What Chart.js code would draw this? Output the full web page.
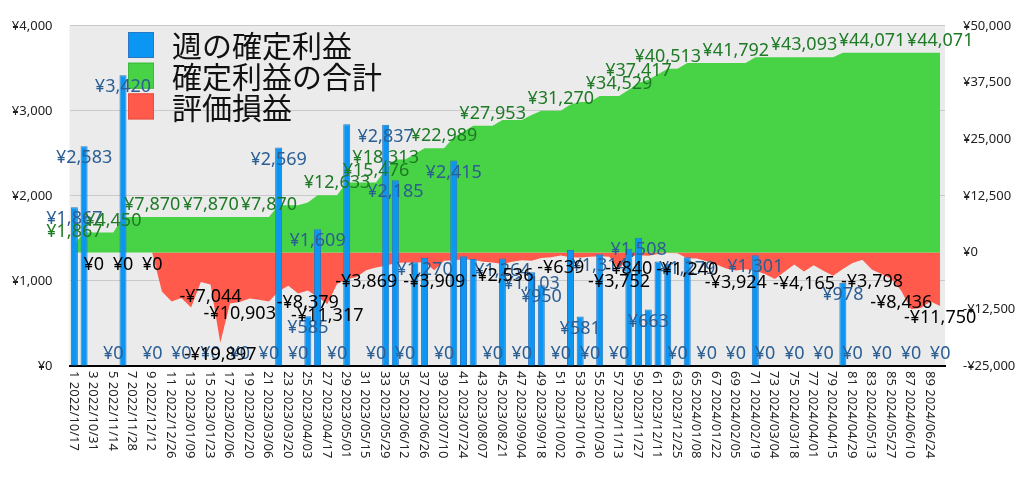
<!DOCTYPE html>
<html>
<head>
<meta charset="utf-8">
<script src="https://cdn.jsdelivr.net/npm/chart.js@4.4.1/dist/chart.umd.min.js"></script>
<style>
body { margin: 0; background: #fff; }
#wrap { width: 1024px; height: 481px; }
</style>
</head>
<body>
<div id="wrap"><canvas id="chart"></canvas></div>
<script>
const dates = [
  '2022/10/17','2022/10/24','2022/10/31','2022/11/07','2022/11/14','2022/11/21','2022/11/28','2022/12/05','2022/12/12','2022/12/19',
  '2022/12/26','2023/01/02','2023/01/09','2023/01/16','2023/01/23','2023/01/30','2023/02/06','2023/02/13','2023/02/20','2023/02/27',
  '2023/03/06','2023/03/13','2023/03/20','2023/03/27','2023/04/03','2023/04/10','2023/04/17','2023/04/24','2023/05/01','2023/05/08',
  '2023/05/15','2023/05/22','2023/05/29','2023/06/05','2023/06/12','2023/06/19','2023/06/26','2023/07/03','2023/07/10','2023/07/17',
  '2023/07/24','2023/07/31','2023/08/07','2023/08/14','2023/08/21','2023/08/28','2023/09/04','2023/09/11','2023/09/18','2023/09/25',
  '2023/10/02','2023/10/09','2023/10/16','2023/10/23','2023/10/30','2023/11/06','2023/11/13','2023/11/20','2023/11/27','2023/12/04',
  '2023/12/11','2023/12/18','2023/12/25','2024/01/01','2024/01/08','2024/01/15','2024/01/22','2024/01/29','2024/02/05','2024/02/12',
  '2024/02/19','2024/02/26','2024/03/04','2024/03/11','2024/03/18','2024/03/25','2024/04/01','2024/04/08','2024/04/15','2024/04/22',
  '2024/04/29','2024/05/06','2024/05/13','2024/05/20','2024/05/27','2024/06/03','2024/06/10','2024/06/17','2024/06/24','2024/07/01'
];
const categories = dates.map((d, i) => (i + 1) + ' ' + d);

// 週の確定利益 (left axis)
const weekly = [
  1867, 2583, 0, 0, 0, 3420, 0, 0, 0, 0,
  0, 0, 0, 0, 0, 0, 0, 0, 0, 0,
  0, 2569, 0, 0, 585, 1609, 0, 0, 2843, 0,
  0, 0, 2837, 2185, 0, 1221, 1270, 0, 0, 2415,
  1290, 1259, 0, 0, 1264, 0, 0, 1103, 950, 0,
  0, 1364, 581, 0, 1314, 0, 0, 1380, 1508, 663,
  1230, 1203, 0, 1279, 0, 0, 0, 0, 0, 0,
  1301, 0, 0, 0, 0, 0, 0, 0, 0, 978,
  0, 0, 0, 0, 0, 0, 0, 0, 0, 0
];
// 確定利益の合計 (right axis)
const total = [
  1867, 4450, 4450, 4450, 4450, 7870, 7870, 7870, 7870, 7870,
  7870, 7870, 7870, 7870, 7870, 7870, 7870, 7870, 7870, 7870,
  7870, 10439, 10439, 10439, 11024, 12633, 12633, 12633, 15476, 15476,
  15476, 15476, 18313, 20498, 20498, 21719, 22989, 22989, 22989, 25404,
  26694, 27953, 27953, 27953, 29217, 29217, 29217, 30320, 31270, 31270,
  31270, 32634, 33215, 33215, 34529, 34529, 34529, 35909, 37417, 38080,
  39310, 40513, 40513, 41792, 41792, 41792, 41792, 41792, 41792, 41792,
  43093, 43093, 43093, 43093, 43093, 43093, 43093, 43093, 43093, 44071,
  44071, 44071, 44071, 44071, 44071, 44071, 44071, 44071, 44071, 44071
];
// 評価損益 (right axis)
const unrealized = [
  0, 0, 0, 0, 0, 0, 0, 0, 0, -8600,
  -10800, -10000, -12100, -6500, -7044, -19897, -11200, -10903, -10100, -10400,
  -10800, -8500, -7300, -9000, -8379, -9800, -11317, -6900, -5900, -5400,
  -3869, -3300, -2900, -2300, -2200, -2200, -2100, -3909, -1800, -1700,
  -1500, -1600, -2000, -2200, -2536, -2000, -1700, -1800, -1200, -1000,
  -639, -1000, -1100, -900, -800, -900, -3752, -840, -600, -700,
  -300, -100, -150, -1240, -1300, -1900, -2600, -3500, -3924, -3650,
  -4000, -4700, -5800, -4200, -2600, -4165, -2800, -4000, -5100, -3600,
  -2300, -1600, -3798, -4700, -5800, -8436, -12500, -12200, -10800, -11750
];

const leftTicks = [0, 1000, 2000, 3000, 4000];
const rightTicks = [-25000, -12500, 0, 12500, 25000, 37500, 50000];

// which points carry a value label in the picture
const weeklyLabelIdx = [0, 1, 4, 5, 8, 11, 14, 17, 20, 21, 23, 24, 25, 27, 31, 32, 33, 34, 36, 38, 39, 43, 44, 46, 47, 48,
  50, 52, 53, 54, 56, 58, 59, 62, 63, 65, 68, 70, 71, 74, 77, 79, 80, 83, 86, 89];
const totalLabelIdx = [0, 4, 8, 14, 20, 27, 31, 32, 38, 43, 50, 56, 58, 61, 68, 75, 82, 89];
const unrealizedLabelIdx = [2, 5, 8, 14, 15, 17, 24, 26, 30, 37, 44, 50, 56, 57, 63, 68, 75, 82, 85, 89];

const seriesNames = ['週の確定利益', '確定利益の合計', '評価損益'];
const colBlue = '#0a96f2', colBlueEdge = '#2a78c4';
const colGreen = '#48d246', colRed = '#ff5a4b';

const yen = v => (v < 0 ? '-' : '') + '¥' + Math.abs(v).toLocaleString('en-US');

const bgPlugin = {
  id: 'plotBg',
  beforeDraw(chart) {
    const { ctx, chartArea: a } = chart;
    ctx.save();
    ctx.fillStyle = '#ebebeb';
    ctx.fillRect(a.left, a.top, a.right - a.left, a.bottom - a.top);
    ctx.restore();
  }
};

const labelPlugin = {
  id: 'valueLabels',
  afterDatasetsDraw(chart) {
    const ctx = chart.ctx;
    const x = chart.scales.x, yl = chart.scales.y, yr = chart.scales.y1;

    // legend
    ctx.save();
    const cols = [colBlue, colGreen, colRed];
    const edges = [colBlueEdge, '#3cb93c', '#e84d40'];
    ctx.font = '30px "Noto Sans CJK JP"';
    ctx.textBaseline = 'middle';
    seriesNames.forEach((n, k) => {
      const top = 32 + k * 30.7;
      ctx.fillStyle = cols[k];
      ctx.fillRect(128, top, 26, 26);
      ctx.strokeStyle = edges[k];
      ctx.lineWidth = 1;
      ctx.strokeRect(128.5, top + 0.5, 25, 25);
      ctx.fillStyle = '#111';
      ctx.fillText(n, 172, top + 14);
    });
    ctx.restore();

    ctx.save();
    ctx.font = '18px "Noto Sans"';
    ctx.textAlign = 'center';
    ctx.textBaseline = 'middle';
    ctx.fillStyle = '#2b5e93';
    weeklyLabelIdx.forEach(i => {
      const v = weekly[i];
      const py = yl.getPixelForValue(v);
      ctx.fillText(yen(v), x.getPixelForValue(i), v > 0 ? py + 12 : py - 12);
    });
    ctx.fillStyle = '#1e7a25';
    totalLabelIdx.forEach(i => {
      ctx.fillText(yen(total[i]), x.getPixelForValue(i), yr.getPixelForValue(total[i]) - 12);
    });
    ctx.fillStyle = '#000';
    unrealizedLabelIdx.forEach(i => {
      ctx.fillText(yen(unrealized[i]), x.getPixelForValue(i), yr.getPixelForValue(unrealized[i]) + 12);
    });
    ctx.restore();
  },
  afterDraw(chart) {
    // vertical category labels, reading downward
    const ctx = chart.ctx, x = chart.scales.x;
    ctx.save();
    ctx.font = '13px "Noto Sans"';
    ctx.fillStyle = '#222';
    ctx.textAlign = 'left';
    ctx.textBaseline = 'middle';
    categories.forEach((c, i) => {
      if (i % 2) return;
      ctx.save();
      ctx.translate(x.getPixelForValue(i) - 1, chart.chartArea.bottom + 5);
      ctx.rotate(Math.PI / 2);
      ctx.fillText(c, 0, 0);
      ctx.restore();
    });
    ctx.restore();
  }
};

new Chart(document.getElementById('chart'), {
  data: {
    labels: categories,
    datasets: [
      {
        type: 'bar', label: seriesNames[0], data: weekly, yAxisID: 'y',
        backgroundColor: colBlue, borderColor: colBlueEdge, borderWidth: 1,
        barPercentage: 0.9, categoryPercentage: 0.8
      },
      {
        type: 'line', label: seriesNames[1], data: total, yAxisID: 'y1',
        backgroundColor: colGreen, borderColor: colGreen, borderWidth: 0,
        pointRadius: 0, fill: 'origin', tension: 0
      },
      {
        type: 'line', label: seriesNames[2], data: unrealized, yAxisID: 'y1',
        backgroundColor: colRed, borderColor: colRed, borderWidth: 0,
        pointRadius: 0, fill: 'origin', tension: 0
      }
    ]
  },
  options: {
    responsive: true,
    maintainAspectRatio: false,
    animation: false,
    layout: { padding: { top: 17, left: 0, right: 0, bottom: 0 } },
    plugins: { legend: { display: false }, tooltip: { enabled: false } },
    scales: {
      x: {
        offset: true,
        grid: { display: false, drawTicks: false },
        border: { display: true, color: '#000', width: 2 },
        ticks: { display: false },
        afterFit: s => { s.height = 115; }
      },
      y: {
        position: 'left', min: 0, max: 4000,
        afterBuildTicks: s => { s.ticks = leftTicks.map(v => ({ value: v })); },
        grid: { color: '#c9c9c9', drawTicks: false },
        border: { display: false },
        ticks: { callback: v => yen(v), color: '#222', font: { family: 'Noto Sans', size: 13 }, padding: 17 },
        afterFit: s => { s.width = 69.5; }
      },
      y1: {
        position: 'right', min: -25000, max: 50000,
        afterBuildTicks: s => { s.ticks = rightTicks.map(v => ({ value: v })); },
        grid: { display: false, drawTicks: false },
        border: { display: false },
        ticks: { callback: v => yen(v), color: '#222', font: { family: 'Noto Sans', size: 13 }, padding: 18 },
        afterFit: s => { s.width = 79; }
      }
    }
  },
  plugins: [bgPlugin, labelPlugin]
});
</script>
</body>
</html>
